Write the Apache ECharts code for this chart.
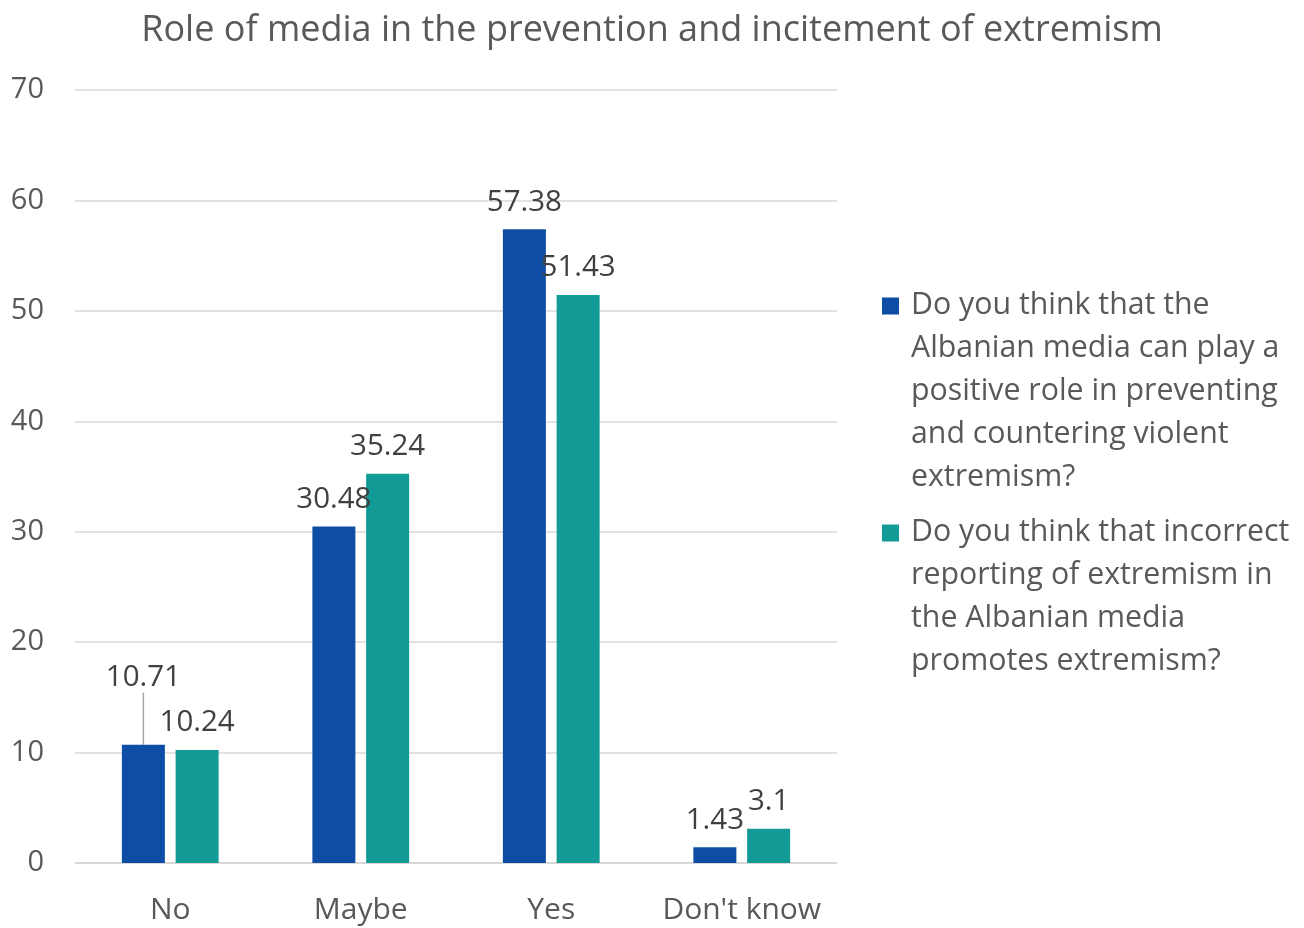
<!DOCTYPE html>
<html>
<head>
<meta charset="utf-8">
<script src="https://cdn.jsdelivr.net/npm/echarts@6/dist/echarts.min.js"></script>
<style>
  html, body { margin: 0; padding: 0; background: #ffffff; }
  #chart { width: 1304px; height: 928px; }
</style>
</head>
<body>
<div id="chart"></div>
<script>
// Survey answers by category
const categories = ['No', 'Maybe', 'Yes', "Don't know"];
const seriesNames = [
  'Do you think that the Albanian media can play a positive role in preventing and countering violent extremism?',
  'Do you think that incorrect reporting of extremism in the Albanian media promotes extremism?'
];
// Legend text broken into lines
const legendLines = [
  ['Do you think that the', 'Albanian media can play a', 'positive role in preventing', 'and countering violent', 'extremism?'],
  ['Do you think that incorrect', 'reporting of extremism in', 'the Albanian media', 'promotes extremism?']
];
const positiveRole = [10.71, 30.48, 57.38, 1.43];
const incorrectReporting = [10.24, 35.24, 51.43, 3.1];
const yTicks = { min: 0, max: 70, interval: 10 };

const FONT = 'Open Sans';
const TEXT = '#595959';
const colors = ['#0D4DA6', '#129A97'];
const LINE_H = 43;

// Legend icon: square at the top of a tall, otherwise empty box so it lines up with the first text line
function iconPath(w, h) {
  return 'path://M0,0L17,0L17,17L0,17Z M' + w + ',' + h + 'L' + (w - 0.01) + ',' + h + 'Z';
}
function legendFor(idx, top, h) {
  return {
    left: 882,
    top: top,
    padding: 0,
    orient: 'vertical',
    itemWidth: 24,
    itemHeight: h,
    icon: iconPath(24, h),
    data: [seriesNames[idx]],
    formatter: function () { return legendLines[idx].join('\n'); },
    textStyle: { fontFamily: FONT, fontSize: 30.3, color: TEXT, lineHeight: LINE_H },
    selectedMode: false
  };
}

const chart = echarts.init(document.getElementById('chart'), null, { renderer: 'canvas' });

const labelBase = {
  show: true,
  position: 'top',
  distance: 12,
  fontFamily: FONT,
  fontSize: 29.5,
  color: '#404040'
};

// The "No" label of the first series sits higher, tied to its bar by a leader line
const positiveRoleData = positiveRole.map(function (v, i) {
  return i === 0 ? { value: v, labelLine: { show: true } } : { value: v };
});

chart.setOption({
  animation: false,
  color: colors,
  title: {
    text: 'Role of media in the prevention and incitement of extremism',
    left: 'center',
    top: 8,
    textStyle: { fontFamily: FONT, fontSize: 36, fontWeight: 'normal', color: TEXT }
  },
  legend: [
    legendFor(0, 284, 188),
    legendFor(1, 511, 145)
  ],
  grid: { left: 75, right: 467, top: 90, bottom: 65 },
  xAxis: {
    type: 'category',
    data: categories,
    axisTick: { show: false },
    axisLine: { lineStyle: { color: '#D4D4D4', width: 1.5 } },
    axisLabel: { fontFamily: FONT, fontSize: 30, color: TEXT, margin: 32, interval: 0, hideOverlap: false }
  },
  yAxis: {
    type: 'value',
    min: yTicks.min,
    max: yTicks.max,
    interval: yTicks.interval,
    axisLine: { show: false },
    axisTick: { show: false },
    splitLine: { lineStyle: { color: '#D9D9D9', width: 1.5 } },
    axisLabel: { fontFamily: FONT, fontSize: 29, color: TEXT, margin: 31 }
  },
  series: [
    {
      name: seriesNames[0],
      type: 'bar',
      data: positiveRoleData,
      barWidth: 43,
      barGap: '25%',
      label: labelBase,
      labelLine: { show: false, lineStyle: { color: '#A6A6A6', width: 1.5 } },
      labelLayout: function (params) {
        return params.dataIndex === 0 ? { dy: -40 } : {};
      }
    },
    {
      name: seriesNames[1],
      type: 'bar',
      data: incorrectReporting,
      barWidth: 43,
      label: labelBase
    }
  ]
});
</script>
</body>
</html>
